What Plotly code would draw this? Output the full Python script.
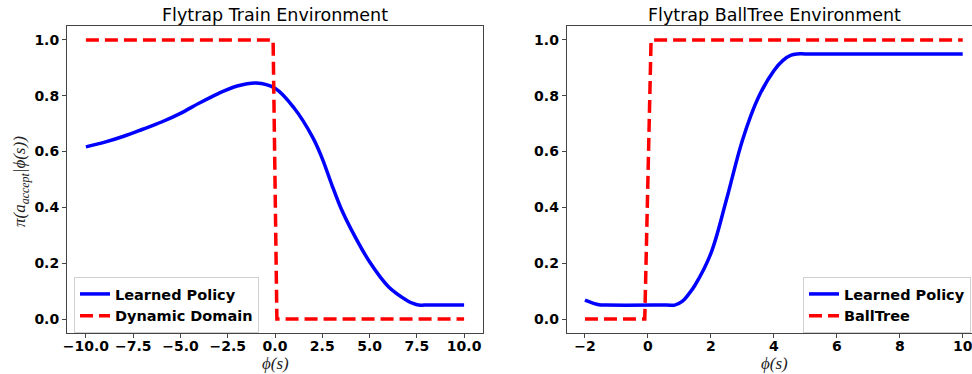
import plotly.graph_objects as go

# ---------------- data ----------------
train_x = [-10, -9, -8, -7, -6, -5, -4, -3, -2, -1, 0, 1, 2, 2.5, 3, 3.5, 4, 5, 6, 7, 7.3, 7.6, 7.9, 10]
train_policy = [0.617, 0.634, 0.655, 0.680, 0.706, 0.737, 0.774, 0.808, 0.835, 0.846, 0.827,
                0.757, 0.650, 0.575, 0.482, 0.395, 0.325, 0.205, 0.116, 0.066, 0.056, 0.05, 0.05, 0.05]
train_domain_x = [-10, -0.1, 0.1, 10]
train_domain_y = [1, 1, 0, 0]

ball_x = [-2, -1.55, -1.3, 0.6, 0.85, 1.1, 1.3, 1.5, 2, 2.5, 3, 3.5, 4, 4.3, 4.55, 4.75, 5.0, 10]
ball_policy = [0.068, 0.051, 0.05, 0.05, 0.05, 0.064, 0.09, 0.122, 0.235, 0.430, 0.640, 0.792,
               0.890, 0.928, 0.946, 0.95, 0.95, 0.95]
ball_tree_x = [-2, -0.1, 0.1, 10]
ball_tree_y = [0, 0, 1, 1]

train_xticks = [-10, -7.5, -5, -2.5, 0, 2.5, 5, 7.5, 10]
train_xlabels = ["\u221210.0", "\u22127.5", "\u22125.0", "\u22122.5", "0.0", "2.5", "5.0", "7.5", "10.0"]
ball_xticks = [-2, 0, 2, 4, 6, 8, 10]
ball_xlabels = ["\u22122", "0", "2", "4", "6", "8", "10"]
yticks = [0, 0.2, 0.4, 0.6, 0.8, 1.0]
ylabels = ["0.0", "0.2", "0.4", "0.6", "0.8", "1.0"]

titles = ["Flytrap Train Environment", "Flytrap BallTree Environment"]

# ---------------- figure ----------------
W, H = 972, 374
BLUE = "#0000ff"
RED = "#ff0000"
AX = "#444444"
TICKFONT = dict(family="DejaVu Sans", size=14, color="black", weight="bold")
MATHFONT = dict(family="Liberation Serif", size=17, color="#222222", style="italic")
LEGFONT = dict(family="DejaVu Sans", size=14.5, color="black", weight="bold")

fig = go.Figure()

fig.add_trace(go.Scatter(x=train_x, y=train_policy, mode="lines", name="Learned Policy",
                         line=dict(color=BLUE, width=3.5, shape="spline", smoothing=1.0),
                         xaxis="x", yaxis="y", legend="legend"))
fig.add_trace(go.Scatter(x=train_domain_x, y=train_domain_y, mode="lines", name="Dynamic Domain",
                         line=dict(color=RED, width=3.5, dash="13px,6px"),
                         xaxis="x", yaxis="y", legend="legend"))
fig.add_trace(go.Scatter(x=ball_x, y=ball_policy, mode="lines", name="Learned Policy",
                         line=dict(color=BLUE, width=3.5, shape="spline", smoothing=1.0),
                         xaxis="x2", yaxis="y2", legend="legend2"))
fig.add_trace(go.Scatter(x=ball_tree_x, y=ball_tree_y, mode="lines", name="BallTree",
                         line=dict(color=RED, width=3.5, dash="13px,6px"),
                         xaxis="x2", yaxis="y2", legend="legend2"))

def px_x(p):
    return p / W

def px_y(p):
    return 1 - p / H

ydom = [px_y(333), px_y(26)]
axis_common = dict(showgrid=False, zeroline=False, showline=True, linecolor=AX, linewidth=1,
                   ticks="outside", ticklen=4, tickcolor=AX, tickwidth=1, tickfont=TICKFONT,
                   automargin=False, ticklabeloverflow="allow")

fig.update_layout(
    width=W, height=H,
    margin=dict(l=0, r=0, t=0, b=0, autoexpand=False),
    paper_bgcolor="white", plot_bgcolor="white",
    xaxis=dict(domain=[px_x(67), px_x(483)], range=[-11, 11], anchor="y",
               tickvals=train_xticks, ticktext=train_xlabels, mirror=True,
               ticklabelstandoff=-4, **axis_common),
    yaxis=dict(domain=ydom, range=[-0.05, 1.05], anchor="x",
               tickvals=yticks, ticktext=ylabels, mirror=True, **axis_common),
    xaxis2=dict(domain=[px_x(566.7), 1], range=[-2.58, 10.295], anchor="y2",
                tickvals=ball_xticks, ticktext=ball_xlabels, mirror=True,
                ticklabelstandoff=-4, **axis_common),
    yaxis2=dict(domain=ydom, range=[-0.05, 1.05], anchor="x2",
                tickvals=yticks, ticktext=ylabels, mirror=False, **axis_common),
    legend=dict(x=px_x(74), y=px_y(277), xanchor="left", yanchor="top",
                bgcolor="rgba(255,255,255,0.8)", bordercolor="#d0d0d0", borderwidth=1,
                font=LEGFONT, itemwidth=30, tracegroupgap=0),
    legend2=dict(x=px_x(803), y=px_y(277), xanchor="left", yanchor="top",
                 bgcolor="rgba(255,255,255,0.8)", bordercolor="#d0d0d0", borderwidth=1,
                 font=LEGFONT, itemwidth=30, tracegroupgap=0),
    showlegend=True,
)

annotations = [
    dict(text=titles[0], x=px_x(275), y=px_y(15), xref="paper", yref="paper",
         showarrow=False, xanchor="center", yanchor="middle",
         font=dict(family="DejaVu Sans", size=17.5, color="black")),
    dict(text=titles[1], x=px_x(774), y=px_y(15), xref="paper", yref="paper",
         showarrow=False, xanchor="center", yanchor="middle",
         font=dict(family="DejaVu Sans", size=17.5, color="black")),
    dict(text="\u03d5(s)", x=px_x(275), y=px_y(363), xref="paper", yref="paper",
         showarrow=False, xanchor="center", yanchor="middle", font=MATHFONT),
    dict(text="\u03d5(s)", x=px_x(774), y=px_y(363), xref="paper", yref="paper",
         showarrow=False, xanchor="center", yanchor="middle", font=MATHFONT),
    dict(text="\u03c0(a<sub>accept</sub>|\u03d5(s))", x=px_x(21), y=px_y(182),
         xref="paper", yref="paper", showarrow=False, xanchor="center", yanchor="middle",
         textangle=-90, font=MATHFONT),
]
fig.update_layout(annotations=annotations)

fig.write_html("out.html", config={"displayModeBar": False},
               post_script="document.body.style.margin='0';document.body.style.overflow='hidden';")
